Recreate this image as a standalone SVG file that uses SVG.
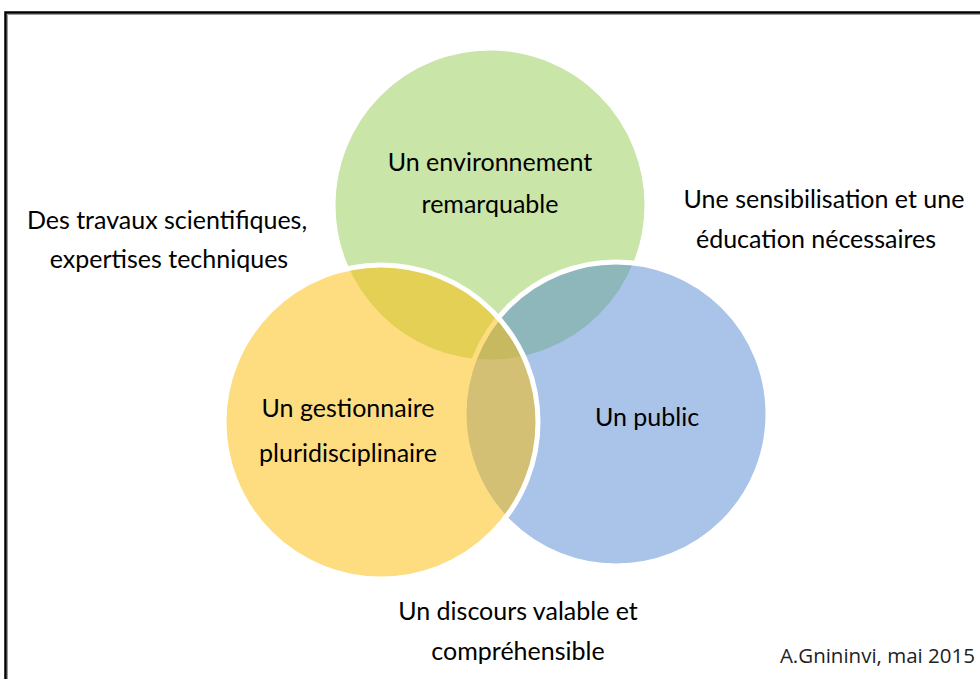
<svg xmlns="http://www.w3.org/2000/svg" width="980" height="679" viewBox="0 0 980 679">
<style>
.lbl{font-family:Lato,"Open Sans","Liberation Sans",sans-serif;font-size:25px;fill:#000;text-anchor:middle}
.sig{font-family:"Open Sans","Liberation Sans",sans-serif;font-size:20.5px;fill:#222;text-anchor:end}
.c{stroke:#fff;stroke-width:5}
</style>
<rect width="980" height="679" fill="#fff"/>
<path d="M5.5,690 V12.5 H990" fill="none" stroke="#000" stroke-width="2.5"/>
<path d="M7.5,690 V14.5 H990" fill="none" stroke="#999" stroke-width="1"/>
<g id="environnement">
<circle class="c" cx="490" cy="205" r="157" fill="#93CB4F" fill-opacity="0.5"/>
</g>
<g id="public">
<circle class="c" cx="616" cy="414" r="152" fill="#5389D1" fill-opacity="0.5"/>
</g>
<g id="gestionnaire">
<circle class="c" cx="381" cy="422" r="157" fill="#FDBB01" fill-opacity="0.5"/>
</g>
<g id="labels">
<text class="lbl" x="490" y="171">Un environnement</text>
<text class="lbl" x="490" y="213">remarquable</text>
<text class="lbl" x="348" y="417">Un gestionnaire</text>
<text class="lbl" x="348" y="462">pluridisciplinaire</text>
<text class="lbl" x="647" y="426">Un public</text>
<text class="lbl" x="167" y="229">Des travaux scientifiques,</text>
<text class="lbl" x="169" y="268">expertises techniques</text>
<text class="lbl" x="824" y="208">Une sensibilisation et une</text>
<text class="lbl" x="816" y="248">éducation nécessaires</text>
<text class="lbl" x="518" y="620">Un discours valable et</text>
<text class="lbl" x="518" y="660">compréhensible</text>
<text class="sig" x="975" y="663">A.Gnininvi, mai 2015</text>
</g>
</svg>
